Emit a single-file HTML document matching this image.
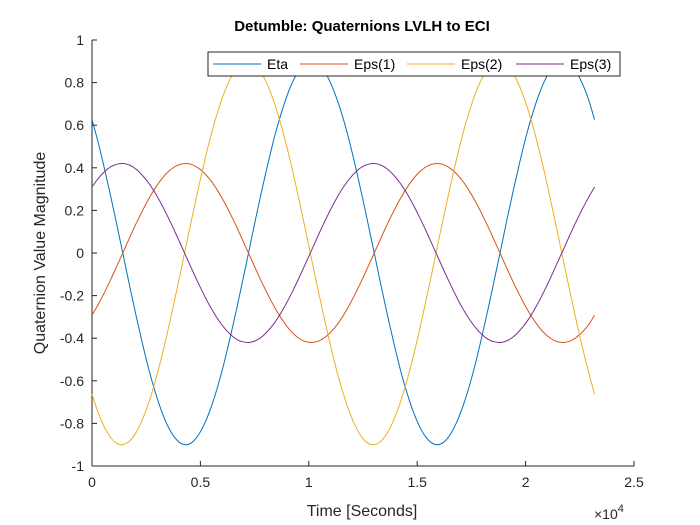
<!DOCTYPE html>
<html><head><meta charset="utf-8"><style>
body{margin:0;background:#fff;}
svg{display:block;font-family:"Liberation Sans",Arial,sans-serif;}
</style></head><body>
<svg id="chart" width="700" height="525" viewBox="0 0 700 525">
<rect width="700" height="525" fill="#fff"/>
<text x="362" y="31" text-anchor="middle" font-size="15" font-weight="bold" fill="#000">Detumble: Quaternions LVLH to ECI</text>
<g id="axes"></g>
<g id="series"></g>
<text x="362" y="516" text-anchor="middle" font-size="16" fill="#262626">Time [Seconds]</text>
<text transform="translate(45,253) rotate(-90)" text-anchor="middle" font-size="16" fill="#262626">Quaternion Value Magnitude</text>
<text x="594" y="519" font-size="14" fill="#262626">×10<tspan dy="-7" font-size="11">4</tspan></text>
<g id="legend">
<rect x="208" y="52" width="412" height="24" fill="#fff" stroke="#262626" stroke-width="1"/>
</g>
</svg>
<script>
const tickX = [0, 0.5, 1, 1.5, 2, 2.5];
const tickXLabels = ["0","0.5","1","1.5","2","2.5"];
const tickY = [-1,-0.8,-0.6,-0.4,-0.2,0,0.2,0.4,0.6,0.8,1];
const tickYLabels = ["-1","-0.8","-0.6","-0.4","-0.2","0","0.2","0.4","0.6","0.8","1"];
const timeStep = 290;
const eta = [
0.626,0.517,0.394,0.263,0.125,-0.015,-0.157,-0.293,-0.422,-0.542,-0.647,-0.737,-0.809,-0.860,-0.891,-0.900,-0.887,-0.851,-0.795,-0.719,-0.626,-0.517,-0.394,-0.263,-0.125,0.015,0.157,0.293,0.422,0.542,0.647,0.737,0.809,0.860,0.891,0.900,0.887,0.851,0.795,0.719,
0.626,0.517,0.394,0.263,0.125,-0.015,-0.157,-0.293,-0.422,-0.542,-0.647,-0.737,-0.809,-0.860,-0.891,-0.900,-0.887,-0.851,-0.795,-0.719,-0.626,-0.517,-0.394,-0.263,-0.125,0.015,0.157,0.293,0.422,0.542,0.647,0.737,0.809,0.860,0.891,0.900,0.887,0.851,0.795,0.719,
0.626];
const eps1 = [
-0.292,-0.241,-0.184,-0.123,-0.058,0.007,0.073,0.137,0.197,0.253,0.302,0.344,0.378,0.402,0.416,0.420,0.414,0.397,0.371,0.336,0.292,0.241,0.184,0.123,0.058,-0.007,-0.073,-0.137,-0.197,-0.253,-0.302,-0.344,-0.378,-0.402,-0.416,-0.420,-0.414,-0.397,-0.371,-0.336,
-0.292,-0.241,-0.184,-0.123,-0.058,0.007,0.073,0.137,0.197,0.253,0.302,0.344,0.378,0.402,0.416,0.420,0.414,0.397,0.371,0.336,0.292,0.241,0.184,0.123,0.058,-0.007,-0.073,-0.137,-0.197,-0.253,-0.302,-0.344,-0.378,-0.402,-0.416,-0.420,-0.414,-0.397,-0.371,-0.336,
-0.292];
const eps2 = [
-0.663,-0.751,-0.819,-0.868,-0.895,-0.899,-0.882,-0.843,-0.783,-0.705,-0.608,-0.497,-0.374,-0.240,-0.102,0.040,0.179,0.315,0.443,0.561,0.663,0.751,0.819,0.868,0.895,0.899,0.882,0.843,0.783,0.705,0.608,0.497,0.374,0.240,0.102,-0.040,-0.179,-0.315,-0.443,-0.561,
-0.663,-0.751,-0.819,-0.868,-0.895,-0.899,-0.882,-0.843,-0.783,-0.705,-0.608,-0.497,-0.374,-0.240,-0.102,0.040,0.179,0.315,0.443,0.561,0.663,0.751,0.819,0.868,0.895,0.899,0.882,0.843,0.783,0.705,0.608,0.497,0.374,0.240,0.102,-0.040,-0.179,-0.315,-0.443,-0.561,
-0.663];
const eps3 = [
0.310,0.350,0.382,0.405,0.417,0.420,0.412,0.394,0.365,0.329,0.284,0.232,0.174,0.112,0.047,-0.018,-0.084,-0.147,-0.207,-0.262,-0.310,-0.350,-0.382,-0.405,-0.417,-0.420,-0.412,-0.394,-0.365,-0.329,-0.284,-0.232,-0.174,-0.112,-0.047,0.018,0.084,0.147,0.207,0.262,
0.310,0.350,0.382,0.405,0.417,0.420,0.412,0.394,0.365,0.329,0.284,0.232,0.174,0.112,0.047,-0.018,-0.084,-0.147,-0.207,-0.262,-0.310,-0.350,-0.382,-0.405,-0.417,-0.420,-0.412,-0.394,-0.365,-0.329,-0.284,-0.232,-0.174,-0.112,-0.047,0.018,0.084,0.147,0.207,0.262,
0.310];
const seriesNames = ["Eta","Eps(1)","Eps(2)","Eps(3)"];
const seriesColors = ["#0072BD","#D95319","#EDB120","#7E2F8E"];

const L=92,R=634,T=40,B=466;
const NS="http://www.w3.org/2000/svg";
function xs(t){return L+(t/25000)*(R-L);}
function ys(v){return B-(v+1)/2*(B-T);}
function mk(tag,attrs,parent){const e=document.createElementNS(NS,tag);for(const k in attrs)e.setAttribute(k,attrs[k]);parent.appendChild(e);return e;}

const axes=document.getElementById('axes');
const xAxis=mk('line',{x1:L,y1:B,x2:R,y2:B,stroke:'#262626','stroke-width':1},axes);


const yAxis=mk('line',{x1:L,y1:T,x2:L,y2:B,stroke:'#262626','stroke-width':1},axes);


tickX.forEach((v,i)=>{
  const x=xs(v*10000);
  mk('line',{x1:x,y1:B,x2:x,y2:B-5,stroke:'#262626'},axes);
  const t=mk('text',{x:x,y:B+21,'text-anchor':'middle','font-size':14,fill:'#262626'},axes);
  t.textContent=tickXLabels[i];
  
  
});
tickY.forEach((v,i)=>{
  const y=ys(v);
  mk('line',{x1:L,y1:y,x2:L+5,y2:y,stroke:'#262626'},axes);
  const t=mk('text',{x:L-8,y:y+5,'text-anchor':'end','font-size':14,fill:'#262626'},axes);
  t.textContent=tickYLabels[i];
  
  
});

function smoothPath(vals){
  const p=vals.map((v,i)=>[xs(Math.min(i*timeStep,23180)),ys(v)]);
  let d='M'+p[0][0].toFixed(2)+','+p[0][1].toFixed(2);
  for(let i=0;i<p.length-1;i++){
    const p0=p[Math.max(i-1,0)],p1=p[i],p2=p[i+1],p3=p[Math.min(i+2,p.length-1)];
    const c1=[p1[0]+(p2[0]-p0[0])/6,p1[1]+(p2[1]-p0[1])/6];
    const c2=[p2[0]-(p3[0]-p1[0])/6,p2[1]-(p3[1]-p1[1])/6];
    d+=' C'+c1.map(n=>n.toFixed(2)).join(',')+' '+c2.map(n=>n.toFixed(2)).join(',')+' '+p2.map(n=>n.toFixed(2)).join(',');
  }
  return d;
}
const sg=document.getElementById('series');
const allSeries=[eta,eps1,eps2,eps3];
const seriesIds=['eta','eps1','eps2','eps3'];
allSeries.forEach((s,i)=>{
  const path=mk('path',{d:smoothPath(s),fill:'none',stroke:seriesColors[i],'stroke-width':1},sg);
  
  
});
const lg=document.getElementById('legend');
const legX=[211,298,405,514];
seriesNames.forEach((n,i)=>{
  mk('line',{x1:legX[i]+2,y1:64,x2:legX[i]+50,y2:64,stroke:seriesColors[i],'stroke-width':1},lg);
  const t=mk('text',{x:legX[i]+56,y:69,'font-size':14,fill:'#000'},lg);
  t.textContent=n;
  
  
});
</script>
</body></html>
